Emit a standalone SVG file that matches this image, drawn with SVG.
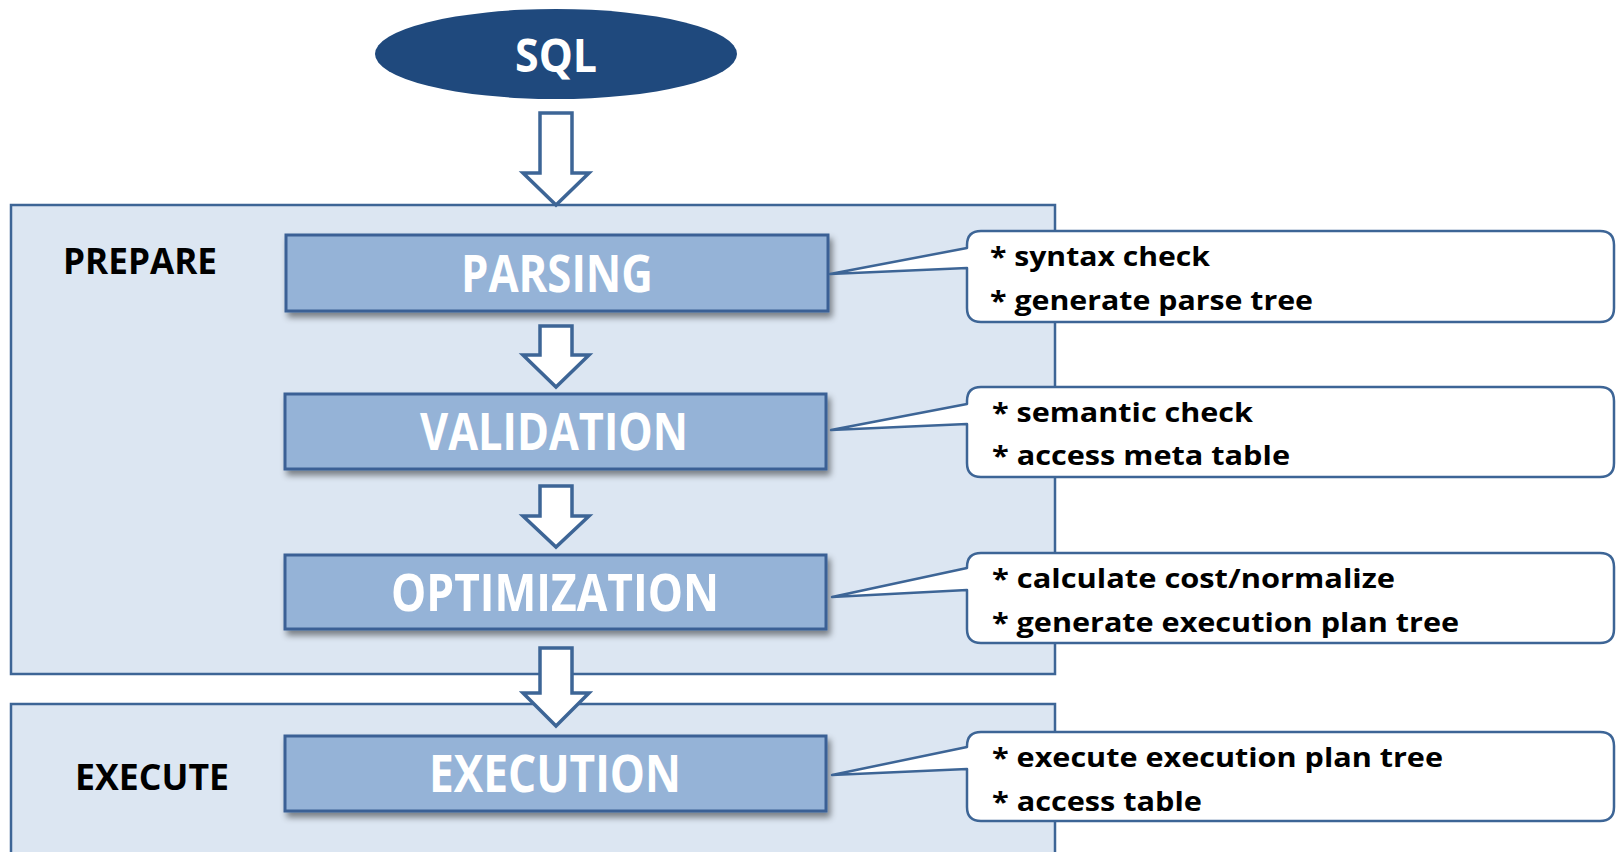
<svg xmlns="http://www.w3.org/2000/svg" width="1617" height="852" viewBox="0 0 1617 852">
<style>
.cont{fill:#dce6f2;stroke:#3d6596;stroke-width:2.5}
.box{fill:#95b3d7;stroke:#3b6095;stroke-width:3}
.boxt{font-family:"Open Sans","Liberation Sans",sans-serif;font-weight:bold;font-size:52px;fill:#ffffff;text-anchor:middle}
.lbl{font-family:"Open Sans","Liberation Sans",sans-serif;font-weight:bold;font-size:35px;fill:#000000}
.arr{fill:#ffffff;stroke:#3d6596;stroke-width:3.5;stroke-linejoin:miter}
.call{fill:#ffffff;stroke:#3d6596;stroke-width:2.5;stroke-linejoin:round}
.ct{font-family:"Open Sans","Liberation Sans",sans-serif;font-weight:bold;font-size:27px;fill:#000000}
</style>
<defs>
<filter id="sh" x="-10%" y="-30%" width="130%" height="170%">
<feDropShadow dx="3" dy="5" stdDeviation="3" flood-color="#000000" flood-opacity="0.45"/>
</filter>
</defs>
<rect width="1617" height="852" fill="#ffffff"/>
<g id="prepare-stage">
<rect class="cont" x="11" y="205" width="1044" height="469"/>
<text class="lbl" x="63" y="274" textLength="154" lengthAdjust="spacingAndGlyphs">PREPARE</text>
</g>
<g id="execute-stage">
<rect class="cont" x="11" y="704" width="1044" height="160"/>
<text class="lbl" x="75" y="790" textLength="154" lengthAdjust="spacingAndGlyphs">EXECUTE</text>
</g>
<g id="sql">
<ellipse cx="556" cy="54" rx="181" ry="45" fill="#1f497d"/>
<text x="556" y="72" font-family="Open Sans, Liberation Sans, sans-serif" font-weight="bold" font-size="46" fill="#ffffff" text-anchor="middle" textLength="82" lengthAdjust="spacingAndGlyphs">SQL</text>
</g>
<g id="connectors">
<polygon class="arr" points="540,113 572,113 572,173 589,173 556,205 523,173 540,173"/>
<polygon class="arr" points="540,326 572,326 572,355 589,355 556,387 523,355 540,355"/>
<polygon class="arr" points="540,486 572,486 572,516 589,516 556,547 523,516 540,516"/>
<polygon class="arr" points="540,648 572,648 572,693 589,693 556,726 523,693 540,693"/>
</g>
<g id="parsing">
<rect class="box" x="286" y="235" width="542" height="76" filter="url(#sh)"/>
<text class="boxt" x="557" y="292" textLength="192" lengthAdjust="spacingAndGlyphs">PARSING</text>
</g>
<g id="validation">
<rect class="box" x="285" y="394" width="541" height="75" filter="url(#sh)"/>
<text class="boxt" x="554" y="450" textLength="268" lengthAdjust="spacingAndGlyphs">VALIDATION</text>
</g>
<g id="optimization">
<rect class="box" x="285" y="555" width="541" height="74" filter="url(#sh)"/>
<text class="boxt" x="555" y="611" textLength="328" lengthAdjust="spacingAndGlyphs">OPTIMIZATION</text>
</g>
<g id="execution">
<rect class="box" x="285" y="736" width="541" height="75" filter="url(#sh)"/>
<text class="boxt" x="555" y="792" textLength="252" lengthAdjust="spacingAndGlyphs">EXECUTION</text>
</g>
<g id="note-parsing">
<path class="call" d="M981,231 H1600 Q1614,231 1614,245 V308 Q1614,322 1600,322 H981 Q967,322 967,308 V268 L830,274 L967,248 V245 Q967,231 981,231 Z"/>
<text class="ct" x="990" y="266" textLength="220" lengthAdjust="spacingAndGlyphs">* syntax check</text>
<text class="ct" x="990" y="310" textLength="323" lengthAdjust="spacingAndGlyphs">* generate parse tree</text>
</g>
<g id="note-validation">
<path class="call" d="M981,387 H1600 Q1614,387 1614,401 V463 Q1614,477 1600,477 H981 Q967,477 967,463 V424 L831,430 L967,404 V401 Q967,387 981,387 Z"/>
<text class="ct" x="992" y="422" textLength="261" lengthAdjust="spacingAndGlyphs">* semantic check</text>
<text class="ct" x="992" y="465" textLength="298" lengthAdjust="spacingAndGlyphs">* access meta table</text>
</g>
<g id="note-optimization">
<path class="call" d="M981,553 H1600 Q1614,553 1614,567 V629 Q1614,643 1600,643 H981 Q967,643 967,629 V590 L832,597 L967,568 V567 Q967,553 981,553 Z"/>
<text class="ct" x="992" y="588" textLength="403" lengthAdjust="spacingAndGlyphs">* calculate cost/normalize</text>
<text class="ct" x="992" y="632" textLength="467" lengthAdjust="spacingAndGlyphs">* generate execution plan tree</text>
</g>
<g id="note-execution">
<path class="call" d="M981,732 H1600 Q1614,732 1614,746 V807 Q1614,821 1600,821 H981 Q967,821 967,807 V769 L832,775 L967,747 V746 Q967,732 981,732 Z"/>
<text class="ct" x="992" y="767" textLength="451" lengthAdjust="spacingAndGlyphs">* execute execution plan tree</text>
<text class="ct" x="992" y="811" textLength="210" lengthAdjust="spacingAndGlyphs">* access table</text>
</g>
</svg>
